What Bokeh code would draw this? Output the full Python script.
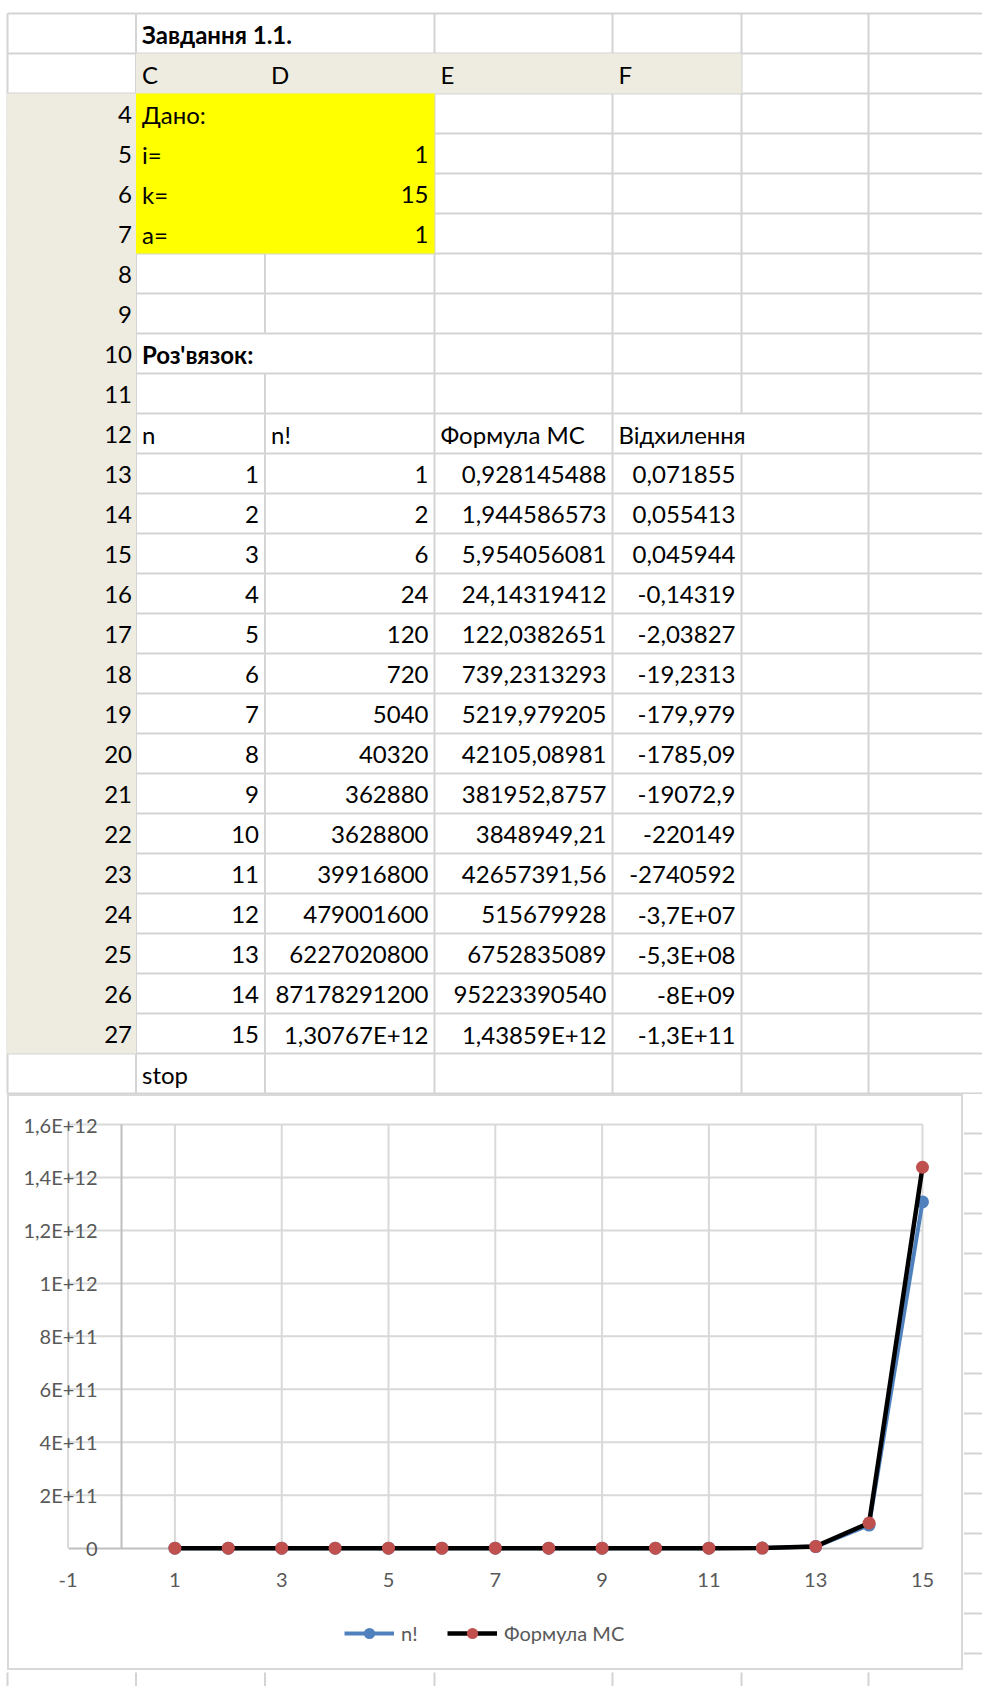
from bokeh.plotting import figure
from bokeh.layouts import column, row
from bokeh.models import (Range1d, LinearAxis, FixedTicker, Legend, LegendItem,
                          ColumnDataSource)
from bokeh.core.properties import value
from bokeh.embed import file_html
from bokeh.resources import INLINE

# ---------------- data (as shown in the sheet) ----------------
TITLE = "Завдання 1.1."
COLUMN_LETTERS = ["C", "D", "E", "F"]
GIVEN_NAMES = ["Дано:", "i=", "k=", "a="]
GIVEN_VALUES = ["", "1", "15", "1"]
SOLUTION = "Роз'вязок:"
HEADERS = ["n", "n!", "Формула МС", "Відхилення"]
N_VALUES = [1, 2, 3, 4, 5, 6, 7, 8, 9, 10, 11, 12, 13, 14, 15]
FACTORIAL = ["1", "2", "6", "24", "120", "720", "5040", "40320", "362880",
             "3628800", "39916800", "479001600", "6227020800", "87178291200",
             "1,30767E+12"]
FORMULA_MC = ["0,928145488", "1,944586573", "5,954056081", "24,14319412",
              "122,0382651", "739,2313293", "5219,979205", "42105,08981",
              "381952,8757", "3848949,21", "42657391,56", "515679928",
              "6752835089", "95223390540", "1,43859E+12"]
DEVIATION = ["0,071855", "0,055413", "0,045944", "-0,14319", "-2,03827",
             "-19,2313", "-179,979", "-1785,09", "-19072,9", "-220149",
             "-2740592", "-3,7E+07", "-5,3E+08", "-8E+09", "-1,3E+11"]
STOP = "stop"
SHEET_ROWS = list(range(4, 28))

X_TICKS = [-1, 1, 3, 5, 7, 9, 11, 13, 15]
Y_TICKS = [0, 2e11, 4e11, 6e11, 8e11, 1e12, 1.2e12, 1.4e12, 1.6e12]
Y_TICK_LABELS = ["0", "2E+11", "4E+11", "6E+11", "8E+11", "1E+12",
                 "1,2E+12", "1,4E+12", "1,6E+12"]
SERIES_NAMES = ["n!", "Формула МС"]

# ---------------- styling / layout ----------------
FONT = "Lato"
CELL_FS = "24px"
CHART_FS = "20px"
GRID_C = "#d4d4d4"
BEIGE = "#eeece1"
YELLOW = "#ffff00"
CH_GRID = "#d9d9d9"
CH_AXIS = "#bfbfbf"
CH_TEXT = "#595959"
BLUE = "#4f81bd"
RED = "#c0504d"

PAGE_W = 982
ROW_H = 40
TABLE_TOP = 13          # first gridline, px from page top
TABLE_H = 1094
COL_EDGES = [7, 135.5, 264.5, 434, 612, 741, 868, 995]
N_ROWS = 27
TEXT_BASE = 19.5        # text anchor, px above the row's bottom line

CH_X0, CH_X1 = 7, 963   # chart box, page px
CH_Y0, CH_Y1 = 1094, 1670
PX_X0, PX_X1 = 67.6, 922.0      # page px of x=-1 and x=15
PY_0, PY_TOP = 1547.7, 1124.0   # page px of y=0 and y=1.6E+12


def num(s):
    return float(s.replace(",", "."))


def plain_fig(w, h, xr, yr):
    return figure(width=w, height=h, x_range=xr, y_range=yr,
                  x_axis_type=None, y_axis_type=None, output_backend="svg",
                  toolbar_location=None, min_border=0, outline_line_color=None,
                  background_fill_color="white", border_fill_color="white")


def row_range(top_px, bottom_px):
    return Range1d((bottom_px - TABLE_TOP) / ROW_H, (top_px - TABLE_TOP) / ROW_H)


# ---------------- spreadsheet part ----------------
tp = plain_fig(PAGE_W, TABLE_H, Range1d(0, PAGE_W), row_range(0, TABLE_H))

hy = list(range(N_ROWS + 1))
tp.segment(x0=[COL_EDGES[0]] * len(hy), x1=[COL_EDGES[-1]] * len(hy), y0=hy, y1=hy,
           line_color=GRID_C, line_width=2)

hidden = {(0, 2), (8, 2), (10, 5)}   # borders hidden by spilling text
vx, vy0, vy1 = [], [], []
for k in range(N_ROWS):
    for j, e in enumerate(COL_EDGES):
        if (k, j) in hidden:
            continue
        vx.append(e); vy0.append(k); vy1.append(k + 1)
tp.segment(x0=vx, x1=vx, y0=vy0, y1=vy1, line_color=GRID_C, line_width=2)

tp.quad(left=[COL_EDGES[0] - 1], right=[COL_EDGES[1]], top=[2], bottom=[26],
        fill_color=BEIGE, line_color=None)
tp.quad(left=[COL_EDGES[1]], right=[COL_EDGES[5]], top=[1], bottom=[2],
        fill_color=BEIGE, line_color=None)
tp.quad(left=[COL_EDGES[1]], right=[COL_EDGES[3]], top=[2], bottom=[6],
        fill_color=YELLOW, line_color=None)

left_items, right_items, bold_items = [], [], []
bold_items += [(1, 0, TITLE), (1, 10 - 2, SOLUTION)]
for i, t in enumerate(COLUMN_LETTERS):
    left_items.append((1 + i, 1, t))
for i, t in enumerate(GIVEN_NAMES):
    left_items.append((1, 4 + i - 2, t))
    if GIVEN_VALUES[i]:
        right_items.append((2, 4 + i - 2, GIVEN_VALUES[i]))
for i, t in enumerate(HEADERS):
    left_items.append((1 + i, 12 - 2, t))
left_items.append((1, 28 - 2, STOP))
for r in SHEET_ROWS:
    right_items.append((0, r - 2, str(r)))
for i in range(len(N_VALUES)):
    k = 13 + i - 2
    right_items += [(1, k, str(N_VALUES[i])), (2, k, FACTORIAL[i]),
                    (3, k, FORMULA_MC[i]), (4, k, DEVIATION[i])]


def src(items, align):
    xs, ys, ts = [], [], []
    for c, k, t in items:
        if align == "left":
            xs.append(COL_EDGES[c] + 6)
        else:
            xs.append(COL_EDGES[c + 1] - (4 if c == 0 else 6))
        ys.append(k + 1 - TEXT_BASE / ROW_H)
        ts.append(t)
    return ColumnDataSource(dict(x=xs, y=ys, text=ts))


common = dict(text_font=value(FONT), text_font_size=CELL_FS, text_color="black",
              text_baseline="alphabetic")
tp.text(x="x", y="y", text="text", source=src(left_items, "left"),
        text_align="left", **common)
tp.text(x="x", y="y", text="text", source=src(right_items, "right"),
        text_align="right", **common)
tp.text(x="x", y="y", text="text", source=src(bold_items, "left"),
        text_align="left", text_font_style="bold", **common)

# ---------------- chart ----------------
fact_vals = [num(s) for s in FACTORIAL]
mc_vals = [num(s) for s in FORMULA_MC]

ux = (PX_X1 - PX_X0) / (X_TICKS[-1] - X_TICKS[0])
uy = (PY_0 - PY_TOP) / Y_TICKS[-1]
cx_range = Range1d(X_TICKS[0] - (PX_X0 - CH_X0) / ux, X_TICKS[-1] + (CH_X1 - PX_X1) / ux)
cy_range = Range1d(-(CH_Y1 - PY_0) / uy, Y_TICKS[-1] + (PY_TOP - CH_Y0) / uy)

cp = figure(width=CH_X1 - CH_X0, height=CH_Y1 - CH_Y0,
            x_range=cx_range, y_range=cy_range,
            x_axis_type=None, y_axis_type=None, output_backend="svg",
            toolbar_location=None, min_border=0,
            outline_line_color=CH_GRID, outline_line_width=3,
            background_fill_color="white", border_fill_color="white")

# gridlines
cp.segment(x0=X_TICKS, x1=X_TICKS, y0=[Y_TICKS[0]] * len(X_TICKS),
           y1=[Y_TICKS[-1]] * len(X_TICKS), line_color=CH_GRID, line_width=2)
gy = Y_TICKS[1:]
cp.segment(x0=[X_TICKS[0]] * len(gy), x1=[X_TICKS[-1]] * len(gy), y0=gy, y1=gy,
           line_color=CH_GRID, line_width=2)

xaxis = LinearAxis(fixed_location=0, bounds=(X_TICKS[0], X_TICKS[-1]),
                   ticker=FixedTicker(ticks=X_TICKS),
                   major_label_overrides={t: str(t) for t in X_TICKS})
yaxis = LinearAxis(fixed_location=0, bounds=(Y_TICKS[0], Y_TICKS[-1]),
                   ticker=FixedTicker(ticks=Y_TICKS),
                   major_label_overrides=dict(zip(Y_TICKS, Y_TICK_LABELS)))
for ax, so in ((xaxis, 25), (yaxis, 24)):
    ax.axis_line_color = CH_AXIS
    ax.axis_line_width = 2
    ax.major_tick_line_color = None
    ax.minor_tick_line_color = None
    ax.major_tick_in = 0
    ax.major_tick_out = 0
    ax.major_label_standoff = so
    ax.major_label_text_font = FONT
    ax.major_label_text_font_size = CHART_FS
    ax.major_label_text_color = CH_TEXT
xaxis.level = "underlay"
cp.add_layout(xaxis, "below")
cp.add_layout(yaxis, "left")

l1 = cp.line(N_VALUES, fact_vals, line_color=BLUE, line_width=4)
s1 = cp.scatter(N_VALUES, fact_vals, size=13, marker="circle",
                fill_color=BLUE, line_color=None)
l2 = cp.line(N_VALUES, mc_vals, line_color="black", line_width=4.5)
s2 = cp.scatter(N_VALUES, mc_vals, size=13, marker="circle",
                fill_color=RED, line_color=None)

legend = Legend(items=[LegendItem(label=SERIES_NAMES[0], renderers=[l1, s1]),
                       LegendItem(label=SERIES_NAMES[1], renderers=[l2, s2])],
                location=(337, 23), orientation="horizontal",
                glyph_width=50, glyph_height=28, label_standoff=7, spacing=26,
                padding=0, margin=0, border_line_color=None,
                background_fill_alpha=0, label_text_font=FONT,
                label_text_font_size=CHART_FS, label_text_color=CH_TEXT)
cp.add_layout(legend)

# ---------------- sheet cells around the chart ----------------
ls = plain_fig(CH_X0, CH_Y1 - CH_Y0, Range1d(0, CH_X0), row_range(CH_Y0, CH_Y1))
rs = plain_fig(PAGE_W - CH_X1, CH_Y1 - CH_Y0, Range1d(CH_X1, PAGE_W),
               row_range(CH_Y0, CH_Y1))
rrows = list(range(28, 42))
rs.segment(x0=[CH_X1] * len(rrows), x1=[PAGE_W] * len(rrows),
           y0=rrows, y1=rrows, line_color=GRID_C, line_width=2)

BS_H = 1686 - CH_Y1
bs = plain_fig(PAGE_W, BS_H, Range1d(0, PAGE_W), row_range(CH_Y1, 1686))
edges = COL_EDGES[:7]
bs.segment(x0=edges, x1=edges, y0=[(CH_Y1 + 2 - TABLE_TOP) / ROW_H] * len(edges),
           y1=[(1686 - TABLE_TOP) / ROW_H] * len(edges),
           line_color=GRID_C, line_width=2)

layout = column(tp, row(ls, cp, rs), bs)
open("out.html", "w").write(file_html(layout, INLINE))
